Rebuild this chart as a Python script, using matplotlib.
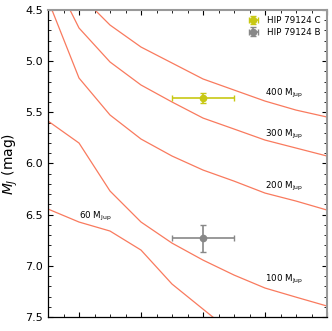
import numpy as np
import matplotlib
matplotlib.use("Agg")
import matplotlib.pyplot as plt
from matplotlib.ticker import MultipleLocator, NullFormatter

# model grid (x in arbitrary age units; x tick labels hidden in reference)
ages = [0.5, 1.0, 1.5, 2.0, 2.5, 3.0, 3.5, 4.0, 4.5, 5.0]
m400 = [None, 4.344, 4.647, 4.862, 5.018, 5.174, 5.282, 5.390, 5.478, 5.546]
m300 = [4.070, 4.676, 5.008, 5.233, 5.399, 5.556, 5.663, 5.771, 5.849, 5.927]
m200 = [4.402, 5.165, 5.526, 5.761, 5.927, 6.064, 6.172, 6.289, 6.367, 6.455]
m100 = [5.585, 5.800, 6.269, 6.572, 6.778, 6.944, 7.090, 7.217, 7.306, 7.393]
m60  = [6.445, 6.572, 6.660, 6.846, 7.178, 7.423, 7.667, None, None, None]

curve_labels = ["400 M$_{\\rm Jup}$", "300 M$_{\\rm Jup}$", "200 M$_{\\rm Jup}$",
                "100 M$_{\\rm Jup}$", "60 M$_{\\rm Jup}$"]
label_x = [4.0, 4.0, 4.0, 4.0, 1.0]
label_y = [5.32, 5.72, 6.22, 7.13, 6.52]

# objects
obj_names = ["HIP 79124 C", "HIP 79124 B"]
obj_x = [3.0, 3.0]
obj_xerr = [0.5, 0.5]
obj_y = [5.357, 6.73]
obj_yerr = [0.05, 0.13]
obj_colors = ["#c8c814", "#888888"]

fig = plt.figure(figsize=(3.32, 3.31), dpi=100)
ax = fig.add_axes([0.1446, 0.0423, 0.8404, 0.9275])

line_color = "#f97a5e"
for series in [m400, m300, m200, m100, m60]:
    xs = [a for a, v in zip(ages, series) if v is not None]
    ys = [v for v in series if v is not None]
    ax.plot(xs, ys, color=line_color, lw=0.9)

for t, lx, ly in zip(curve_labels, label_x, label_y):
    ax.text(lx, ly, t, fontsize=6.3, ha="left", va="center")

for n, x, xe, y, ye, c in zip(obj_names, obj_x, obj_xerr, obj_y, obj_yerr, obj_colors):
    ax.errorbar(x, y, xerr=xe, yerr=ye, fmt="o", color=c, ms=4.5,
                elinewidth=1.2, capsize=2, capthick=1, label=n)

ax.set_xlim(0.5, 5.0)
ax.set_ylim(7.5, 4.5)
ax.xaxis.set_major_locator(MultipleLocator(1.0))
ax.xaxis.set_minor_locator(MultipleLocator(0.25))
ax.xaxis.set_major_formatter(NullFormatter())
ax.yaxis.set_major_locator(MultipleLocator(0.5))
ax.yaxis.set_minor_locator(MultipleLocator(0.1))
ax.tick_params(which="both", direction="in", top=True, right=True, labelsize=8)
ax.tick_params(which="major", length=3.5, width=0.8)
ax.tick_params(which="minor", length=2, width=0.6)
ax.set_ylabel("$M_J$ (mag)", fontsize=10, labelpad=4)

for s in ["top", "right"]:
    ax.spines[s].set_color("#999999")
    ax.spines[s].set_linewidth(1.5)
for s in ["left", "bottom"]:
    ax.spines[s].set_linewidth(0.9)

ax.legend(loc="upper right", fontsize=6.3, frameon=False, handlelength=1.6,
          borderaxespad=0.3, labelspacing=0.3)

fig.savefig("out.png", dpi=100)
